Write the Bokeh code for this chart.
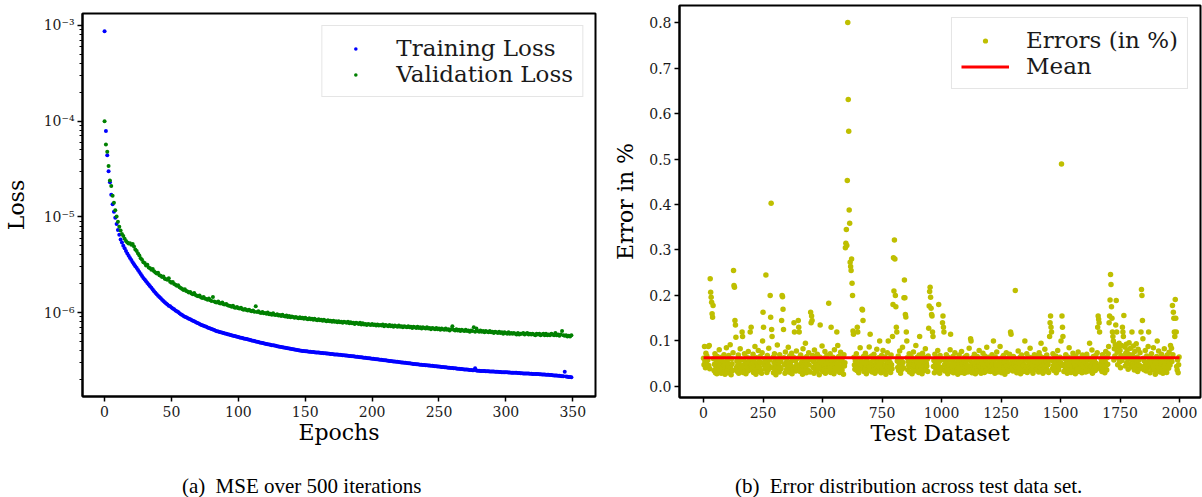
from bokeh.plotting import figure
from bokeh.layouts import row, column
from bokeh.models import (Range1d, LogTicker, SingleIntervalTicker, CustomJSTickFormatter,
                          NumeralTickFormatter, Legend, LegendItem, Div)
from bokeh.embed import file_html
from bokeh.resources import INLINE

# ---------------- data ----------------
# Loss per epoch, in units of 1e-6
TRAIN_LOSS_E6 = [
    870, 79, 44, 30, 23, 17, 13.5, 11.3, 9.8, 8.4,
    7.3, 6.5, 5.8, 5.4, 5.0, 4.7, 4.4, 4.15, 3.92, 3.72,
    3.53, 3.36, 3.2, 3.05, 2.91, 2.78, 2.65, 2.53, 2.41, 2.30,
    2.21, 2.12, 2.04, 1.96, 1.88, 1.81, 1.74, 1.67, 1.61, 1.55,
    1.50, 1.45, 1.41, 1.36, 1.32, 1.28, 1.24, 1.21, 1.18, 1.16,
    1.13, 1.10, 1.08, 1.05, 1.03, 1.01, 0.98, 0.96, 0.94, 0.92,
    0.905, 0.89, 0.876, 0.862, 0.848, 0.834, 0.821, 0.808, 0.795, 0.782,
    0.77, 0.758, 0.746, 0.736, 0.727, 0.717, 0.708, 0.699, 0.690, 0.681,
    0.672, 0.663, 0.655, 0.646, 0.638, 0.632, 0.626, 0.621, 0.615, 0.610,
    0.604, 0.599, 0.593, 0.588, 0.583, 0.577, 0.572, 0.567, 0.563, 0.558,
    0.554, 0.549, 0.545, 0.541, 0.536, 0.532, 0.528, 0.524, 0.519, 0.515,
    0.511, 0.507, 0.503, 0.499, 0.495, 0.491, 0.487, 0.483, 0.479, 0.476,
    0.472, 0.468, 0.465, 0.462, 0.459, 0.456, 0.454, 0.451, 0.448, 0.445,
    0.442, 0.439, 0.437, 0.434, 0.431, 0.429, 0.426, 0.423, 0.421, 0.418,
    0.415, 0.413, 0.410, 0.408, 0.405, 0.403, 0.400, 0.398, 0.397, 0.395,
    0.394, 0.393, 0.391, 0.390, 0.389, 0.387, 0.386, 0.385, 0.383, 0.382,
    0.381, 0.379, 0.378, 0.377, 0.375, 0.374, 0.373, 0.372, 0.370, 0.369,
    0.368, 0.367, 0.365, 0.364, 0.363, 0.362, 0.361, 0.359, 0.358, 0.357,
    0.356, 0.355, 0.354, 0.352, 0.351, 0.349, 0.348, 0.347, 0.345, 0.344,
    0.342, 0.341, 0.340, 0.338, 0.337, 0.336, 0.334, 0.333, 0.332, 0.330,
    0.329, 0.328, 0.326, 0.325, 0.324, 0.322, 0.321, 0.320, 0.318, 0.317,
    0.316, 0.315, 0.313, 0.312, 0.311, 0.310, 0.308, 0.307, 0.306, 0.305,
    0.304, 0.302, 0.301, 0.300, 0.299, 0.298, 0.296, 0.295, 0.294, 0.293,
    0.292, 0.290, 0.289, 0.288, 0.287, 0.286, 0.285, 0.284, 0.283, 0.282,
    0.281, 0.281, 0.280, 0.279, 0.278, 0.277, 0.276, 0.275, 0.274, 0.273,
    0.272, 0.271, 0.270, 0.269, 0.268, 0.267, 0.266, 0.265, 0.264, 0.263,
    0.263, 0.262, 0.261, 0.260, 0.259, 0.258, 0.257, 0.256, 0.255, 0.254,
    0.254, 0.253, 0.252, 0.251, 0.250, 0.249, 0.249, 0.262, 0.247, 0.246,
    0.246, 0.245, 0.245, 0.244, 0.244, 0.243, 0.243, 0.243, 0.242, 0.242,
    0.241, 0.241, 0.240, 0.240, 0.240, 0.239, 0.239, 0.238, 0.238, 0.237,
    0.237, 0.237, 0.236, 0.236, 0.235, 0.235, 0.234, 0.234, 0.234, 0.233,
    0.233, 0.232, 0.232, 0.231, 0.231, 0.231, 0.230, 0.230, 0.229, 0.229,
    0.228, 0.228, 0.228, 0.227, 0.227, 0.226, 0.226, 0.225, 0.225, 0.225,
    0.224, 0.224, 0.223, 0.222, 0.222, 0.221, 0.220, 0.220, 0.219, 0.218,
    0.218, 0.217, 0.216, 0.216, 0.240, 0.214, 0.213, 0.212, 0.212, 0.211,
]

VAL_LOSS_E6 = [
    100, 57, 48, 34, 24, 21, 16.6, 14, 11.7, 10.1,
    8.9, 7.9, 7.2, 6.6, 6.3, 5.9, 5.6, 5.4, 5.25, 5.3,
    5.1, 5.2, 4.9, 4.55, 4.4, 4.15, 3.95, 3.7, 3.55, 3.35,
    3.3, 3.1, 3.15, 2.95, 2.9, 2.8, 2.85, 2.7, 2.62, 2.55,
    2.6, 2.45, 2.42, 2.35, 2.38, 2.25, 2.22, 2.2, 2.28, 2.1,
    2.05, 2.08, 1.98, 1.95, 1.9, 1.93, 1.84, 1.8, 1.76, 1.72,
    1.75, 1.68, 1.66, 1.62, 1.64, 1.58, 1.55, 1.6, 1.52, 1.5,
    1.48, 1.51, 1.44, 1.42, 1.45, 1.4, 1.38, 1.36, 1.4, 1.34,
    1.32, 1.45, 1.3, 1.28, 1.27, 1.3, 1.25, 1.24, 1.27, 1.22,
    1.21, 1.23, 1.19, 1.18, 1.17, 1.15, 1.18, 1.13, 1.12, 1.14,
    1.11, 1.1, 1.12, 1.08, 1.07, 1.09, 1.06, 1.05, 1.07, 1.04,
    1.03, 1.05, 1.02, 1.16, 1.01, 1.03, 1.0, 0.99, 1.01, 0.98,
    0.99, 0.97, 1.0, 0.96, 0.97, 0.95, 0.98, 0.95, 0.94, 0.96,
    0.93, 0.94, 0.92, 0.95, 0.92, 0.91, 0.93, 0.9, 0.92, 0.89,
    0.91, 0.9, 0.88, 0.9, 0.88, 0.87, 0.89, 0.87, 0.88, 0.86,
    0.88, 0.86, 0.85, 0.87, 0.85, 0.86, 0.84, 0.86, 0.84, 0.83,
    0.85, 0.83, 0.84, 0.82, 0.84, 0.82, 0.81, 0.83, 0.81, 0.82,
    0.8, 0.82, 0.8, 0.81, 0.79, 0.81, 0.79, 0.8, 0.78, 0.8,
    0.79, 0.78, 0.8, 0.77, 0.79, 0.77, 0.78, 0.76, 0.78, 0.77,
    0.76, 0.78, 0.75, 0.77, 0.75, 0.76, 0.74, 0.76, 0.75, 0.74,
    0.76, 0.74, 0.75, 0.73, 0.75, 0.73, 0.74, 0.73, 0.75, 0.72,
    0.74, 0.73, 0.72, 0.74, 0.72, 0.73, 0.71, 0.73, 0.72, 0.71,
    0.73, 0.71, 0.72, 0.7, 0.72, 0.71, 0.7, 0.72, 0.7, 0.71,
    0.69, 0.71, 0.7, 0.69, 0.71, 0.69, 0.7, 0.68, 0.7, 0.69,
    0.68, 0.7, 0.68, 0.69, 0.67, 0.69, 0.68, 0.67, 0.69, 0.67,
    0.68, 0.66, 0.68, 0.67, 0.66, 0.68, 0.66, 0.67, 0.65, 0.67,
    0.72, 0.66, 0.65, 0.67, 0.65, 0.66, 0.64, 0.66, 0.65, 0.64,
    0.66, 0.64, 0.65, 0.63, 0.65, 0.64, 0.70, 0.63, 0.68, 0.64,
    0.63, 0.65, 0.63, 0.64, 0.62, 0.64, 0.63, 0.62, 0.64, 0.62,
    0.63, 0.61, 0.63, 0.62, 0.61, 0.63, 0.61, 0.62, 0.6, 0.62,
    0.61, 0.6, 0.62, 0.6, 0.61, 0.6, 0.61, 0.6, 0.59, 0.61,
    0.59, 0.6, 0.6, 0.61, 0.59, 0.6, 0.61, 0.59, 0.6, 0.59,
    0.6, 0.59, 0.58, 0.6, 0.59, 0.6, 0.58, 0.59, 0.6, 0.58,
    0.6, 0.58, 0.59, 0.58, 0.6, 0.59, 0.58, 0.61, 0.58, 0.59,
    0.57, 0.59, 0.64, 0.58, 0.57, 0.58, 0.56, 0.57, 0.56, 0.58,
]
LOSS_UNIT = 1e-6

# Test-set errors (in %), in thousandths, one value per two test samples
N_TEST = 2000
ERRORS_MILLI = [
    62, 48, 88, 55, 41, 73, 52, 67, 44, 58, 88, 46, 90, 39, 237, 207, 196, 185, 160, 152,
    178, 61, 35, 49, 72, 30, 44, 57, 28, 66, 38, 52, 45, 81, 33, 47, 59, 29, 64, 42,
    36, 55, 31, 70, 46, 27, 53, 40, 85, 34,
    57, 43, 30, 68, 49, 38, 92, 45, 26, 61, 50, 35, 74, 255, 222, 218, 145, 135, 108, 42,
    56, 33, 47, 69, 29, 51, 40, 83, 37, 60, 44, 120, 110, 31, 58, 47, 72, 36, 53, 28,
    65, 41, 49, 34, 77, 55, 39, 62, 120, 45,
    130, 48, 36, 59, 71, 31, 46, 54, 88, 40, 27, 63, 50, 38, 45, 79, 33, 57, 42, 66,
    35, 52, 29, 74, 100, 163, 130, 47, 61, 39, 56, 245, 43, 31, 68, 50, 37, 84, 45, 58,
    200, 152, 403, 125, 110, 41, 64, 30, 53, 72,
    38, 49, 26, 60, 44, 91, 35, 57, 47, 32, 70, 42, 55, 39, 145, 200, 197, 170, 125, 63,
    48, 29, 76, 52, 36, 61, 44, 33, 86, 50, 40, 67, 31, 54, 45, 73, 28, 59, 37, 64,
    140, 120, 43, 56, 34, 78, 48, 39, 62, 145,
    130, 120, 46, 33, 69, 51, 38, 58, 27, 83, 44, 62, 36, 53, 95, 41, 30, 66, 49, 57,
    35, 74, 47, 59, 32, 163, 140, 155, 145, 68, 42, 55, 29, 80, 45, 37, 63, 50, 34, 71,
    48, 39, 58, 26, 65, 135, 43, 54, 36, 89,
    51, 33, 62, 45, 38, 77, 29, 56, 47, 68, 40, 59, 35, 183, 52, 43, 72, 31, 130, 49,
    57, 37, 64, 46, 28, 81, 53, 41, 60, 34, 120, 50, 90, 39, 66, 44, 31, 58, 75, 42,
    55, 36, 63, 48, 27, 70, 45, 52, 305, 315,
    345, 310, 453, 800, 631, 561, 388, 359, 273, 264, 255, 280, 227, 200, 122, 115, 64, 47, 38, 56,
    43, 72, 35, 130, 120, 51, 30, 62, 45, 85, 39, 57, 48, 170, 168, 145, 66, 33, 54, 41,
    73, 46, 28, 59, 37, 64, 50, 42, 87, 35,
    115, 53, 40, 67, 32, 48, 58, 36, 71, 44, 29, 61, 50, 38, 82, 45, 56, 34, 63, 47,
    100, 41, 55, 30, 68, 52, 37, 79, 43, 59, 33, 65, 46, 27, 57, 40, 74, 49, 100, 36,
    62, 44, 53, 31, 69, 48, 39, 110, 180, 283,
    210, 322, 280, 200, 175, 130, 120, 56, 42, 67, 35, 51, 78, 44, 29, 60, 47, 38, 86, 53,
    41, 195, 234, 195, 158, 153, 120, 100, 63, 37, 55, 46, 72, 32, 58, 43, 66, 50, 28, 61,
    39, 76, 48, 34, 57, 45, 90, 36, 52, 64,
    43, 58, 31, 69, 110, 47, 37, 62, 54, 28, 73, 41, 56, 35, 64, 49, 83, 38, 51, 45,
    60, 33, 67, 128, 177, 209, 218, 196, 172, 158, 155, 120, 110, 44, 57, 30, 71, 48, 39, 63,
    52, 36, 79, 46, 180, 55, 29, 68, 42, 58,
    37, 61, 140, 155, 130, 120, 47, 34, 56, 43, 70, 39, 52, 28, 64, 45, 36, 59, 81, 115,
    48, 33, 57, 41, 66, 30, 53, 44, 74, 38, 50, 62, 35, 47, 27, 58, 42, 69, 36, 54,
    45, 31, 77, 49, 38, 60, 43, 56, 29, 65,
    40, 53, 35, 68, 46, 32, 59, 44, 84, 37, 57, 105, 100, 48, 30, 63, 41, 52, 36, 71,
    45, 28, 60, 50, 39, 66, 33, 55, 47, 79, 38, 62, 43, 29, 57, 49, 35, 73, 44, 53,
    31, 67, 46, 58, 37, 86, 42, 51, 34, 64,
    48, 39, 61, 33, 55, 44, 70, 36, 52, 100, 43, 58, 29, 65, 47, 38, 76, 50, 32, 60,
    45, 54, 37, 88, 41, 57, 30, 63, 49, 35, 68, 42, 53, 27, 59, 46, 74, 39, 56, 33,
    62, 48, 36, 71, 44, 120, 115, 51, 40, 58,
    34, 66, 47, 38, 55, 211, 43, 60, 30, 52, 45, 78, 36, 57, 41, 64, 28, 50, 69, 39,
    54, 46, 33, 61, 48, 100, 37, 58, 43, 72, 31, 56, 45, 65, 38, 52, 84, 40, 59, 35,
    63, 47, 29, 57, 44, 70, 36, 53, 41, 67,
    50, 38, 61, 45, 32, 74, 55, 42, 66, 95, 37, 58, 47, 29, 63, 51, 40, 82, 34, 56,
    44, 69, 36, 53, 48, 31, 60, 110, 140, 155, 130, 120, 57, 39, 72, 46, 35, 62, 50, 43,
    67, 30, 55, 41, 79, 48, 37, 59, 45, 64,
    52, 100, 489, 155, 130, 110, 46, 33, 61, 49, 38, 70, 44, 56, 29, 65, 51, 40, 85, 36,
    58, 47, 31, 63, 54, 42, 73, 35, 50, 60, 43, 28, 67, 48, 39, 57, 46, 76, 33, 54,
    41, 62, 37, 52, 45, 30, 69, 49, 58, 36,
    55, 43, 64, 32, 50, 71, 39, 58, 46, 34, 62, 95, 48, 37, 57, 44, 80, 29, 53, 66,
    40, 59, 47, 35, 68, 51, 42, 74, 130, 155, 148, 140, 120, 45, 38, 61, 52, 33, 70, 47,
    56, 41, 65, 30, 54, 77, 46, 36, 63, 49,
    72, 88, 140, 155, 190, 246, 224, 175, 150, 120, 110, 100, 58, 83, 67, 92, 135, 189, 120, 75,
    48, 86, 62, 95, 54, 79, 41, 68, 90, 57, 130, 120, 110, 156, 64, 87, 45, 73, 93, 52,
    80, 61, 38, 71, 96, 49, 66, 84, 43, 58,
    120, 70, 47, 89, 55, 36, 77, 60, 42, 94, 51, 65, 33, 82, 48, 58, 39, 74, 45, 120,
    213, 200, 145, 105, 62, 37, 56, 44, 79, 50, 34, 67, 53, 41, 88, 120, 46, 59, 30, 63,
    48, 72, 38, 55, 44, 85, 36, 61, 52, 27,
    57, 43, 66, 100, 35, 50, 78, 41, 60, 32, 54, 46, 71, 38, 62, 29, 56, 44, 83, 49,
    37, 64, 52, 31, 69, 45, 58, 40, 75, 53, 47, 90, 62, 84, 55, 178, 70, 163, 150, 120,
    110, 191, 150, 120, 44, 36, 58, 30, 48, 65,
]
MEAN_ERROR = 0.063
MEAN_SPAN = [0, N_TEST]

X_TICKS_A = 50
X_TICKS_B = 250

CAPTION_A = ("(a)", "MSE over 500 iterations")
CAPTION_B = ("(b)", "Error distribution across test data set.")

# ---------------- styling helpers ----------------
SERIF = "DejaVu Serif"
TEXT_COLOR = "#1a1a1a"


def style_axes(p):
    p.outline_line_color = "black"
    p.outline_line_width = 2
    p.outline_line_alpha = 1
    p.xgrid.visible = False
    p.ygrid.visible = False
    p.background_fill_color = "white"
    p.border_fill_color = "white"
    if "frame_align" in p.properties():
        p.frame_align = False
    for ax in (p.xaxis[0], p.yaxis[0]):
        ax.axis_line_color = "black"
        ax.axis_line_width = 2
        ax.major_tick_line_color = "black"
        ax.major_tick_line_width = 1.5
        ax.major_tick_in = 0
        ax.major_tick_out = 5
        ax.minor_tick_line_color = "black"
        ax.minor_tick_line_width = 1
        ax.minor_tick_in = 0
        ax.minor_tick_out = 3
        ax.major_label_text_font = SERIF
        ax.major_label_text_font_size = "14px"
        ax.major_label_text_color = TEXT_COLOR
        ax.axis_label_text_font = SERIF
        ax.axis_label_text_font_size = "22px"
        ax.axis_label_text_font_style = "normal"
        ax.axis_label_text_color = "black"
        ax.major_label_standoff = 3
    p.xaxis[0].major_label_standoff = 4


def style_legend(lg, glyph_h):
    lg.location = "top_right"
    lg.margin = 12
    lg.padding = 9
    lg.spacing = 0
    lg.glyph_width = 48
    lg.glyph_height = glyph_h
    lg.label_standoff = 17
    lg.label_text_font = SERIF
    lg.label_text_font_size = "23px"
    lg.label_text_color = TEXT_COLOR
    lg.border_line_color = "#cccccc"
    lg.border_line_width = 1
    lg.background_fill_color = "white"
    lg.background_fill_alpha = 0.8


# ---------------- panel (a): loss ----------------
epochs = list(range(len(TRAIN_LOSS_E6)))
train = [v * LOSS_UNIT for v in TRAIN_LOSS_E6]
val = [v * LOSS_UNIT for v in VAL_LOSS_E6]

p1 = figure(width=600, height=466, y_axis_type="log", title=None,
            x_range=Range1d(-16.5, 367), y_range=Range1d(10 ** -6.878, 10 ** -2.8746),
            output_backend="svg", toolbar_location=None,
            min_border_left=82, min_border_right=5, min_border_top=13, min_border_bottom=70)
style_axes(p1)
p1.xaxis[0].ticker = SingleIntervalTicker(interval=X_TICKS_A, num_minor_ticks=0)
p1.xaxis[0].minor_tick_line_color = None
p1.yaxis[0].ticker = LogTicker(mantissas=[1], num_minor_ticks=10)
p1.yaxis[0].formatter = CustomJSTickFormatter(code="""
    const e = Math.round(Math.log10(tick));
    const sup = {"-": "\u207b", "0": "\u2070", "1": "\u00b9", "2": "\u00b2", "3": "\u00b3",
                 "4": "\u2074", "5": "\u2075", "6": "\u2076", "7": "\u2077", "8": "\u2078", "9": "\u2079"};
    return "10" + String(e).split("").map(c => sup[c]).join("");
""")
p1.xaxis[0].axis_label = "Epochs"
p1.yaxis[0].axis_label = "Loss"
p1.xaxis[0].axis_label_standoff = 0
p1.yaxis[0].axis_label_standoff = 12

r_train = p1.scatter(epochs, train, size=4, color="#0000ff", line_width=0)
r_val = p1.scatter(epochs[:len(val)], val, size=4, color="#008000", line_width=0)

lg1 = Legend(items=[LegendItem(label="Training Loss", renderers=[r_train]),
                    LegendItem(label="Validation Loss", renderers=[r_val])])
style_legend(lg1, 9)
p1.add_layout(lg1)

# ---------------- panel (b): errors ----------------
step = N_TEST // len(ERRORS_MILLI)
test_idx = [i * step for i in range(len(ERRORS_MILLI))]
errors = [v / 1000 for v in ERRORS_MILLI]

p2 = figure(width=602, height=466, title=None,
            x_range=Range1d(-101, 2088), y_range=Range1d(-0.0242, 0.8374),
            output_backend="svg", toolbar_location=None,
            min_border_left=79, min_border_right=2, min_border_top=5, min_border_bottom=69)
style_axes(p2)
p2.xaxis[0].ticker = SingleIntervalTicker(interval=X_TICKS_B, num_minor_ticks=0)
p2.yaxis[0].ticker = SingleIntervalTicker(interval=0.1, num_minor_ticks=0)
p2.yaxis[0].formatter = NumeralTickFormatter(format="0.0")
p2.xaxis[0].minor_tick_line_color = None
p2.yaxis[0].minor_tick_line_color = None
p2.xaxis[0].axis_label = "Test Dataset"
p2.yaxis[0].axis_label = "Error in %"
p2.xaxis[0].axis_label_standoff = 0
p2.yaxis[0].axis_label_standoff = 8

r_err = p2.scatter(test_idx, errors, size=5.5, color="#bfbf00", line_width=0)
r_mean = p2.line(MEAN_SPAN, [MEAN_ERROR, MEAN_ERROR], line_color="#ff0000", line_width=3)

lg2 = Legend(items=[LegendItem(label="Errors (in %)", renderers=[r_err]),
                    LegendItem(label="Mean", renderers=[r_mean])])
style_legend(lg2, 13)
p2.add_layout(lg2)

# ---------------- captions ----------------
def caption_span(parts, left):
    tag, body = parts
    return ('<span style="position:absolute; left:%dpx; top:0px; white-space:nowrap">'
            '<span style="margin-right:5px">%s</span> %s</span>' % (left, tag, body))


captions = Div(
    text='<div style="position:relative; width:1202px; height:31px">%s%s</div>'
         % (caption_span(CAPTION_A, 177), caption_span(CAPTION_B, 730)),
    width=1202, height=31,
    styles={"font-family": "'Liberation Serif', 'Times New Roman', serif", "font-size": "21px",
            "line-height": "31px", "color": "black"})

layout = column(row(p1, p2), captions)
open("out.html", "w").write(file_html(layout, INLINE))
